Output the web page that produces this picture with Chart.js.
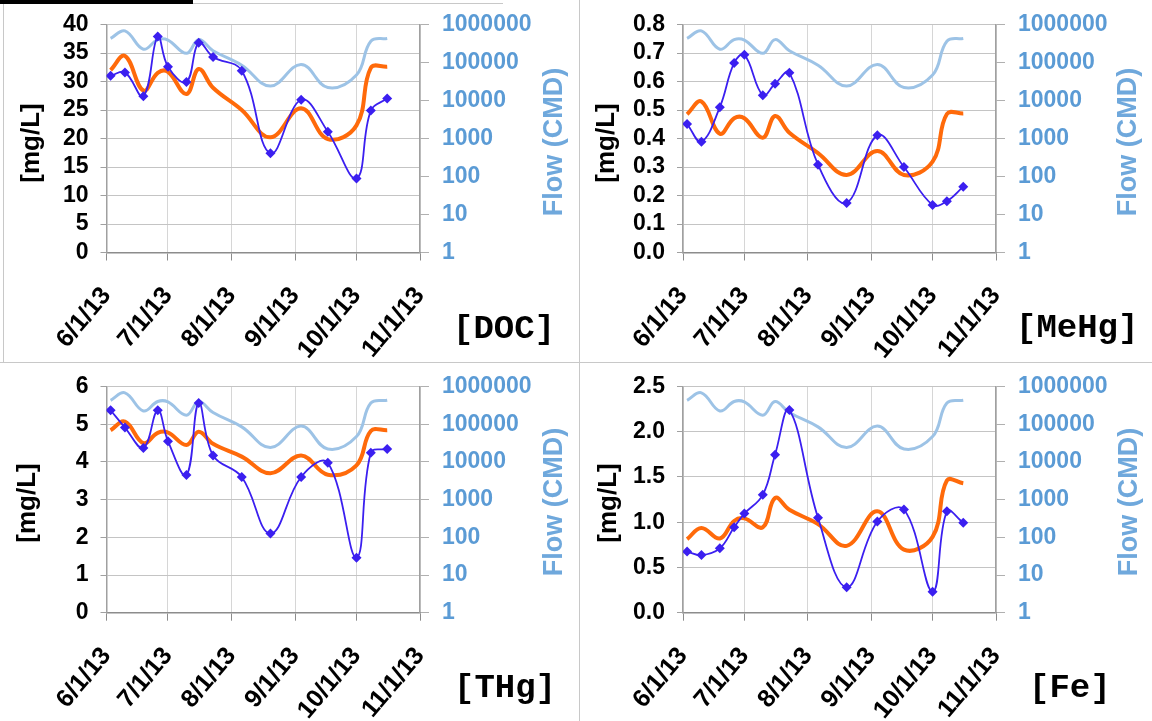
<!DOCTYPE html>
<html><head><meta charset="utf-8">
<script src="https://cdn.jsdelivr.net/npm/chart.js@4.4.1/dist/chart.umd.min.js"></script>
<style>
html,body{margin:0;padding:0;background:#fff;}
#wrap{position:relative;width:1152px;height:721px;overflow:hidden;background:#fff;}
canvas{position:absolute;}
.ln{position:absolute;background:#c8c8c8;}
</style></head><body>
<div id="wrap">
<canvas id="c0" width="579" height="362" style="left:0px;top:0px"></canvas>
<canvas id="c1" width="573" height="362" style="left:579px;top:0px"></canvas>
<canvas id="c2" width="579" height="359" style="left:0px;top:362px"></canvas>
<canvas id="c3" width="573" height="359" style="left:579px;top:362px"></canvas>
<div class="ln" style="left:579px;top:0;width:1px;height:721px"></div>
<div class="ln" style="left:0;top:362px;width:1152px;height:1px"></div>
<div class="ln" style="left:3px;top:3px;width:1px;height:359px"></div>
<div class="ln" style="left:193px;top:3px;width:310px;height:1px"></div>
<div style="position:absolute;left:0;top:0;width:193px;height:4px;background:#000"></div>
</div>
<script>
// ---------- data ----------
const sampleDates = ['6/3/13','6/10/13','6/19/13','6/26/13','7/1/13','7/10/13','7/16/13','7/23/13','8/6/13','8/20/13','9/4/13','9/17/13','10/1/13','10/8/13','10/16/13'];
const xTickDates = ['6/1/13','7/1/13','8/1/13','9/1/13','10/1/13','11/1/13'];
const flowTickLabels = ['1','10','100','1000','10000','100000','1000000'];
const flowCMD = [430000, 680000, 224000, 400000, 390000, 174000, 400000, 204000, 85000, 24000, 89000, 22000, 47000, 363000, 430000];

const docMeasured  = [31.0, 31.6, 27.4, 37.9, 32.6, 29.9, 36.8, 34.3, 31.9, 17.4, 26.8, 21.2, 13.0, 24.9, 27.0];
const docModel     = [32.0, 34.5, 28.4, 31.5, 31.7, 27.8, 32.2, 28.9, 25.0, 20.2, 25.3, 19.9, 22.3, 32.4, 32.6];
const mehgMeasured = [0.451, 0.389, 0.510, 0.665, 0.694, 0.552, 0.592, 0.631, 0.308, 0.174, 0.411, 0.300, 0.167, 0.180, 0.231];
const mehgModel    = [0.485, 0.530, 0.417, 0.471, 0.471, 0.403, 0.479, 0.420, 0.349, 0.272, 0.356, 0.272, 0.319, 0.486, 0.488];
const thgMeasured  = [5.37, 4.91, 4.37, 5.37, 4.55, 3.65, 5.56, 4.17, 3.60, 2.10, 3.60, 3.98, 1.46, 4.24, 4.34];
const thgModel     = [4.84, 5.07, 4.50, 4.77, 4.78, 4.45, 4.80, 4.48, 4.14, 3.70, 4.17, 3.66, 3.91, 4.82, 4.84];
const feMeasured   = [0.676, 0.637, 0.711, 0.944, 1.095, 1.303, 1.746, 2.239, 1.049, 0.282, 1.007, 1.141, 0.232, 1.120, 0.993];
const feModel      = [0.813, 0.937, 0.820, 1.014, 1.042, 0.944, 1.268, 1.137, 0.979, 0.739, 1.120, 0.697, 0.838, 1.460, 1.430];

const panelLabels = ['[DOC]', '[MeHg]', '[THg]', '[Fe]'];
const leftTitle = '[mg/L]';
const rightTitle = 'Flow (CMD)';

// ---------- helpers ----------
function dayOf(s) {
  const p = s.split('/').map(Number);
  return Math.round((Date.UTC(2000 + p[2], p[0] - 1, p[1]) - Date.UTC(2013, 5, 1)) / 86400000);
}
const sampleDays = sampleDates.map(dayOf);
const xTickDays = xTickDates.map(dayOf);
const flowTickValues = flowTickLabels.map(Number);
function pts(vals) { return vals.map((v, i) => ({ x: sampleDays[i], y: v })); }

const textPlugin = {
  id: 'panelText',
  afterDraw(chart, args, o) {
    const ctx = chart.ctx;
    ctx.save();
    ctx.textBaseline = 'middle';
    ctx.textAlign = 'center';
    ctx.save();
    ctx.translate(o.lx, o.ly); ctx.rotate(-Math.PI / 2);
    ctx.font = 'bold 26px "Liberation Sans"'; ctx.fillStyle = '#000';
    ctx.fillText(leftTitle, 0, 0);
    ctx.restore();
    ctx.save();
    ctx.translate(o.rx, o.ry); ctx.rotate(-Math.PI / 2);
    ctx.font = 'bold 27px "Liberation Sans"'; ctx.fillStyle = '#6fa8dc';
    ctx.fillText(rightTitle, 0, 0);
    ctx.restore();
    ctx.textAlign = 'left';
    ctx.font = 'bold 34px "Liberation Mono"'; ctx.fillStyle = '#000';
    ctx.fillText(o.label, o.px, o.py);
    ctx.restore();
  }
};

const panels = [
  { id: 'c0', W: 579, H: 362, measured: docMeasured,  model: docModel,  yMax: 40,  step: 5,   dec: 0, label: panelLabels[0],
    area: { l: 106.5, r: 420, t: 16, b: 252.5 }, txt: { lx: 32, ly: 143, rx: 555, ry: 142, px: 453, py: 329 } },
  { id: 'c1', W: 573, H: 362, measured: mehgMeasured, model: mehgModel, yMax: 0.8, step: 0.1, dec: 1, label: panelLabels[1],
    area: { l: 104, r: 417, t: 16, b: 252.5 }, txt: { lx: 28, ly: 143, rx: 550, ry: 142, px: 437, py: 328 } },
  { id: 'c2', W: 579, H: 359, measured: thgMeasured,  model: thgModel,  yMax: 6,   step: 1,   dec: 0, label: panelLabels[2],
    area: { l: 106.5, r: 420, t: 14, b: 250.7 }, txt: { lx: 28, ly: 141, rx: 555, ry: 140, px: 454, py: 326 } },
  { id: 'c3', W: 573, H: 359, measured: feMeasured,   model: feModel,   yMax: 2.5, step: 0.5, dec: 1, label: panelLabels[3],
    area: { l: 104, r: 417, t: 14, b: 250.7 }, txt: { lx: 30, ly: 141, rx: 551, ry: 140, px: 450, py: 326 } }
];

panels.forEach(p => {
  new Chart(document.getElementById(p.id), {
    type: 'line',
    data: {
      datasets: [
        { label: 'measured', data: pts(p.measured), yAxisID: 'y', borderColor: '#3b1ff0', backgroundColor: '#3b1ff0',
          borderWidth: 1.8, tension: 0.4, pointStyle: 'rectRot', pointRadius: 5, pointBorderWidth: 0, order: 0 },
        { label: 'model', data: pts(p.model), yAxisID: 'y', borderColor: '#ff6a0a', backgroundColor: '#ff6a0a',
          borderWidth: 4, tension: 0.4, pointRadius: 0, order: 1 },
        { label: 'flow', data: pts(flowCMD), yAxisID: 'y2', borderColor: '#9dc3e6', backgroundColor: '#9dc3e6',
          borderWidth: 3, tension: 0.4, pointRadius: 0, order: 2 }
      ]
    },
    options: {
      responsive: false, animation: false, devicePixelRatio: 1,
      layout: { padding: { top: p.area.t, left: 0, right: 0, bottom: 0 } },
      plugins: { legend: { display: false }, tooltip: { enabled: false }, panelText: Object.assign({ label: p.label }, p.txt) },
      scales: {
        x: {
          type: 'linear', position: 'bottom', min: 0, max: 153,
          afterBuildTicks: s => { s.ticks = xTickDays.map(v => ({ value: v })); },
          afterFit: s => { s.height = p.H - p.area.b; },
          ticks: { autoSkip: false, minRotation: 50, maxRotation: 50, padding: 21, color: '#000',
            font: { family: 'Liberation Sans', size: 25, weight: 'bold' },
            callback: v => { const i = xTickDays.indexOf(v); return i >= 0 ? xTickDates[i] : ''; } },
          grid: { color: '#d6d6d6', tickColor: '#8c8c8c', tickLength: 8, lineWidth: 1 },
          border: { color: '#8c8c8c', width: 1.5 }
        },
        y: {
          type: 'linear', position: 'left', min: 0, max: p.yMax,
          afterBuildTicks: s => { const t = []; for (let k = 0; k * p.step <= p.yMax + 1e-9; k++) t.push({ value: +(k * p.step).toFixed(3) }); s.ticks = t; },
          afterFit: s => { s.width = p.area.l; },
          ticks: { autoSkip: false, padding: 12, color: '#000', font: { family: 'Liberation Sans', size: 23, weight: 'bold', lineHeight: 1 },
            callback: v => Number(v).toFixed(p.dec) },
          grid: { color: '#c4c4c4', tickColor: '#a0a0a0', tickLength: 6 },
          border: { color: '#a0a0a0', width: 1.5 }
        },
        y2: {
          type: 'logarithmic', position: 'right', min: 1, max: 1000000,
          afterBuildTicks: s => { s.ticks = flowTickValues.map(v => ({ value: v })); },
          afterFit: s => { s.width = p.W - p.area.r; },
          ticks: { autoSkip: false, padding: 13, color: '#5b9bd5', font: { family: 'Liberation Sans', size: 23, weight: 'bold', lineHeight: 1 },
            callback: (v, i) => flowTickLabels[i] },
          grid: { drawOnChartArea: false, tickColor: '#b0b0b0', tickLength: 9 },
          border: { color: '#a0a0a0', width: 1.5 }
        }
      }
    },
    plugins: [textPlugin]
  });
});
</script>
</body></html>
